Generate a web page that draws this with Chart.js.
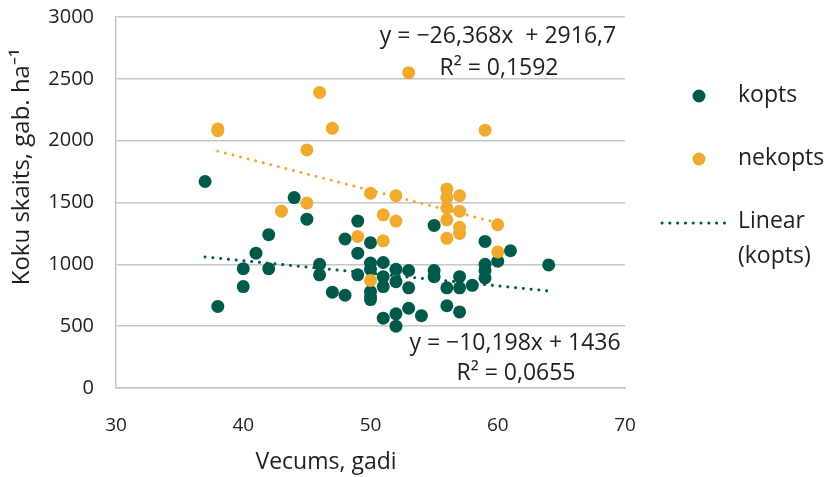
<!DOCTYPE html>
<html>
<head>
<meta charset="utf-8">
<script src="https://cdn.jsdelivr.net/npm/chart.js@4.4.1/dist/chart.umd.min.js"></script>
<style>
  body { margin: 0; background: #fff; }
</style>
</head>
<body>
<canvas id="myChart" width="831" height="477"></canvas>
<script>
// kopts (green)
var koptsX = [37, 38, 40, 40, 41, 42, 42, 44, 45, 46, 46, 47, 48, 48, 49, 49, 49,
  50, 50, 50, 50, 50, 50, 51, 51, 51, 51, 52, 52, 52, 52, 53, 53, 53, 54,
  55, 55, 55, 56, 56, 57, 57, 57, 58, 59, 59, 59, 59, 60, 61, 64];
var koptsY = [1670, 660, 965, 820, 1090, 1240, 965, 1540, 1365, 1000, 915, 775, 1205, 750, 1350, 1090, 915,
  1175, 1010, 960, 780, 740, 715, 1015, 900, 820, 565, 960, 860, 600, 500, 950, 810, 645, 585,
  1315, 950, 900, 810, 665, 900, 810, 615, 830, 1185, 1000, 950, 890, 1025, 1110, 995];

// nekopts (orange)
var nekoptsX = [38, 38, 43, 45, 45, 46, 47, 49, 50, 50, 51, 51, 52, 52, 53,
  56, 56, 56, 56, 56, 57, 57, 57, 57, 59, 60, 60];
var nekoptsY = [2095, 2080, 1430, 1925, 1495, 2390, 2100, 1225, 1575, 870, 1400, 1190, 1555, 1350, 2550,
  1610, 1540, 1455, 1360, 1210, 1555, 1430, 1300, 1250, 2085, 1320, 1100];

// trend line end points
var trendKoptsX = [37, 64];
var trendKoptsY = [1060, 785];
var trendNekoptsX = [38, 60];
var trendNekoptsY = [1915, 1335];

var xTicks = [30, 40, 50, 60, 70];
var yTicks = [0, 500, 1000, 1500, 2000, 2500, 3000];

var green = "#005a4b";
var orange = "#f0aa2e";
var textColor = "#1e1e1e";
var font = "'Open Sans', sans-serif";

function pts(xs, ys) {
  return xs.map(function (x, i) { return { x: x, y: ys[i] }; });
}

// titles, equations and the legend are drawn by hand
const extras = {
  id: "extras",
  afterDraw(chart) {
    const c = chart.ctx;
    c.save();
    c.fillStyle = textColor;
    c.textAlign = "center";
    c.textBaseline = "middle";
    c.font = "23px " + font;
    c.fillText("y = \u221226,368x  + 2916,7", 498, 36);
    c.fillText("R\u00b2 = 0,1592", 499, 68);
    c.fillText("y = \u221210,198x + 1436", 515, 343);
    c.fillText("R\u00b2 = 0,0655", 516, 373);

    // axis titles
    c.fillText("Vecums, gadi", 326, 462);
    c.font = "24px " + font;
    c.translate(22, 167);
    c.rotate(-Math.PI / 2);
    c.fillText("Koku skaits, gab. ha\u207b\u00b9", 0, 0);
    c.restore();

    // legend
    c.save();
    c.font = "23px " + font;
    c.textBaseline = "middle";
    c.fillStyle = green;
    c.beginPath(); c.arc(699, 96, 6.5, 0, Math.PI * 2); c.fill();
    c.fillStyle = orange;
    c.beginPath(); c.arc(699, 159, 6.5, 0, Math.PI * 2); c.fill();
    c.strokeStyle = green;
    c.lineWidth = 3;
    c.lineCap = "round";
    c.setLineDash([0.1, 7.7]);
    c.beginPath(); c.moveTo(662, 223); c.lineTo(730, 223); c.stroke();
    c.fillStyle = textColor;
    c.fillText(chart.data.datasets[0].label, 738, 95);
    c.fillText(chart.data.datasets[1].label, 738, 158);
    c.fillText("Linear", 738, 221);
    c.fillText("(" + chart.data.datasets[0].label + ")", 738, 256);
    c.restore();
  }
};

const ctx = document.getElementById("myChart");
const myChart = new Chart(ctx, {
  type: "scatter",
  data: {
    datasets: [
      {
        label: "kopts",
        data: pts(koptsX, koptsY),
        backgroundColor: green,
        borderWidth: 0,
        pointRadius: 6.5,
        order: 2
      },
      {
        label: "nekopts",
        data: pts(nekoptsX, nekoptsY),
        backgroundColor: orange,
        borderWidth: 0,
        pointRadius: 6.5,
        order: 1
      },
      {
        label: "Linear (kopts)",
        data: pts(trendKoptsX, trendKoptsY),
        showLine: true,
        borderColor: green,
        borderWidth: 3,
        borderDash: [0.1, 7.7],
        borderCapStyle: "round",
        pointRadius: 0,
        order: 3
      },
      {
        label: "Linear (nekopts)",
        data: pts(trendNekoptsX, trendNekoptsY),
        showLine: true,
        borderColor: orange,
        borderWidth: 3,
        borderDash: [0.1, 7.7],
        borderCapStyle: "round",
        pointRadius: 0,
        order: 3
      }
    ]
  },
  options: {
    responsive: false,
    animation: false,
    layout: { padding: { left: 0, right: 206, top: 17, bottom: 0 } },
    plugins: {
      legend: { display: false },
      tooltip: { enabled: false }
    },
    scales: {
      x: {
        type: "linear",
        min: 30,
        max: 70,
        afterBuildTicks(s) { s.ticks = xTicks.map(function (v) { return { value: v }; }); },
        afterFit(s) { s.height = 89; s.paddingLeft = 0; s.paddingRight = 0; },
        grid: { display: false },
        border: { display: true, color: "#c6c6c6", width: 1.5 },
        ticks: { color: textColor, font: { family: font, size: 19 }, padding: 18 }
      },
      y: {
        min: 0,
        max: 3000,
        afterBuildTicks(s) { s.ticks = yTicks.map(function (v) { return { value: v }; }); },
        afterFit(s) { s.width = 116; s.paddingTop = 0; s.paddingBottom = 0; },
        grid: { color: "#c6c6c6", lineWidth: 1.5, drawTicks: false },
        border: { display: true, color: "#c6c6c6", width: 1.5 },
        ticks: {
          color: textColor,
          font: { family: font, size: 20 },
          padding: 22,
          callback: function (v) { return String(v); }
        }
      }
    }
  },
  plugins: [extras]
});
</script>
</body>
</html>
